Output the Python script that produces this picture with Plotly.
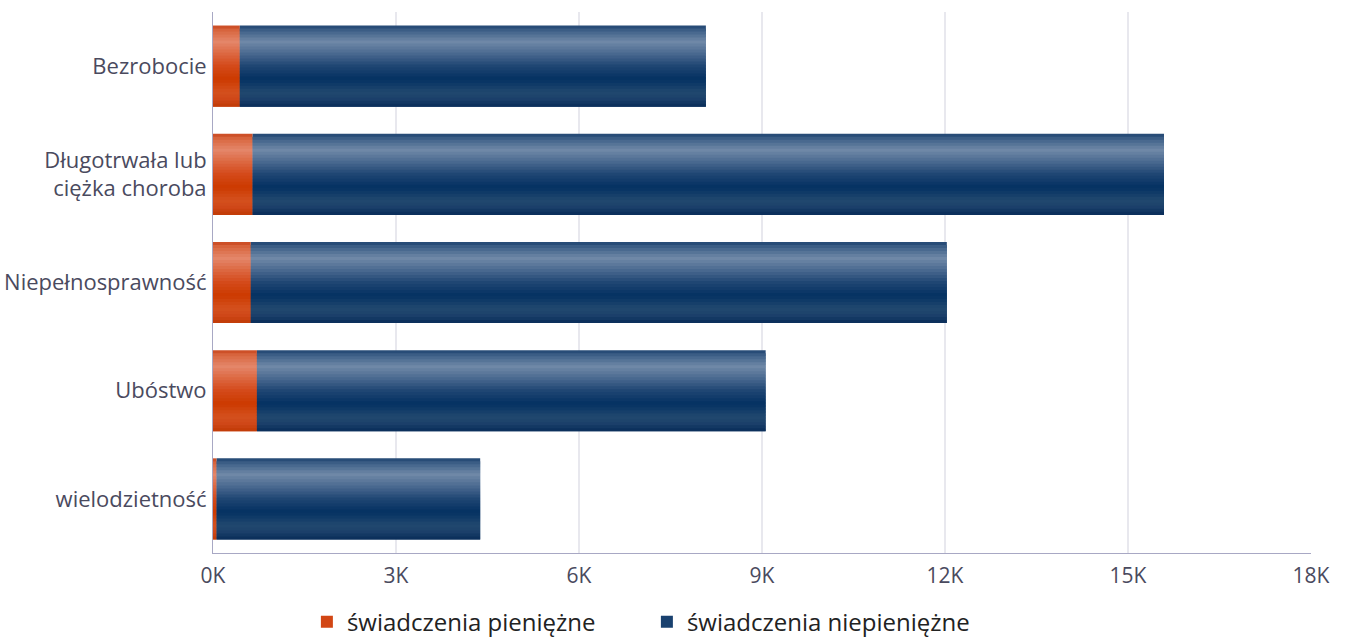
import plotly.graph_objects as go

categories = ["Bezrobocie", "Długotrwała lub<br>ciężka choroba", "Niepełnosprawność", "Ubóstwo", "wielodzietność"]
pieniezne = [440, 650, 620, 720, 60]
niepieniezne = [7640, 14940, 11410, 8340, 4320]
series_names = ["świadczenia pieniężne", "świadczenia niepieniężne"]
tick_vals = [0, 3000, 6000, 9000, 12000, 15000, 18000]
tick_text = ["0K", "3K", "6K", "9K", "12K", "15K", "18K"]

blue_stops = [(0.00, "#1e4470"), (0.06, "#3d5f87"), (0.20, "#7089a8"), (0.36, "#46668e"),
              (0.50, "#1f4673"), (0.66, "#043162"), (0.82, "#21486f"), (0.90, "#1c416b"), (1.00, "#082c58")]
orange_stops = [(0.00, "#c8461e"), (0.06, "#d8663f"), (0.20, "#e4876a"), (0.36, "#dc653e"),
                (0.50, "#d44a1a"), (0.66, "#cc3a00"), (0.82, "#d4501e"), (0.90, "#d0481a"), (1.00, "#c03a05")]


def interp(stops, t):
    for (t0, c0), (t1, c1) in zip(stops[:-1], stops[1:]):
        if t0 <= t <= t1:
            f = (t - t0) / (t1 - t0) if t1 > t0 else 0
            a = [int(c0[i:i + 2], 16) for i in (1, 3, 5)]
            b = [int(c1[i:i + 2], 16) for i in (1, 3, 5)]
            return "rgb(%d,%d,%d)" % tuple(round(a[k] + (b[k] - a[k]) * f) for k in range(3))
    return stops[-1][1]


N = 27
BW = 0.75
w = BW / N
LEG_I = 14
fig = go.Figure()
for name, vals, base, stops in [(series_names[0], pieniezne, [0] * len(pieniezne), orange_stops),
                                (series_names[1], niepieniezne, pieniezne, blue_stops)]:
    for i in range(N):
        t = (i + 0.5) / N
        col = interp(stops, t)
        sw = w if i == N - 1 else 2 * w
        fig.add_trace(go.Bar(
            y=categories, x=vals, base=base, orientation="h",
            width=sw, offset=-BW / 2 + i * w,
            marker=dict(color=col, line=dict(width=0)),
            name=name, legendgroup=name,
            showlegend=(i == LEG_I),
            hoverinfo="skip" if i != LEG_I else None,
        ))

fig.update_layout(
    width=1346, height=638,
    barmode="overlay",
    paper_bgcolor="white", plot_bgcolor="white",
    margin=dict(l=213, r=35, t=12, b=85, autoexpand=False),
    font=dict(family="Open Sans, Noto Sans, sans-serif", size=22, color="#4a4a5e"),
    xaxis=dict(range=[0, 18000], tickvals=tick_vals, ticktext=tick_text,
               showgrid=True, gridcolor="#e8e8ee", gridwidth=1.5,
               showline=True, linecolor="#a8a8c4", linewidth=1, automargin=False,
               ticks="", zeroline=False, tickfont=dict(size=21), ticklabelstandoff=4),
    yaxis=dict(type="category", categoryorder="array", categoryarray=categories,
               range=[4.5, -0.5], showgrid=False, automargin=False,
               showline=True, linecolor="#a8a8c4", linewidth=1, ticks="",
               tickfont=dict(size=22), ticklabelstandoff=1),
    legend=dict(orientation="h", xref="container", yref="container",
                x=0.228, xanchor="left", y=0.025, yanchor="middle",
                font=dict(size=24, color="#222222"), itemwidth=30,
                entrywidth=295, entrywidthmode="pixels",
                traceorder="normal"),
)

fig.write_html("out.html", config={"displayModeBar": False},
               post_script="document.body.style.margin='0';")
